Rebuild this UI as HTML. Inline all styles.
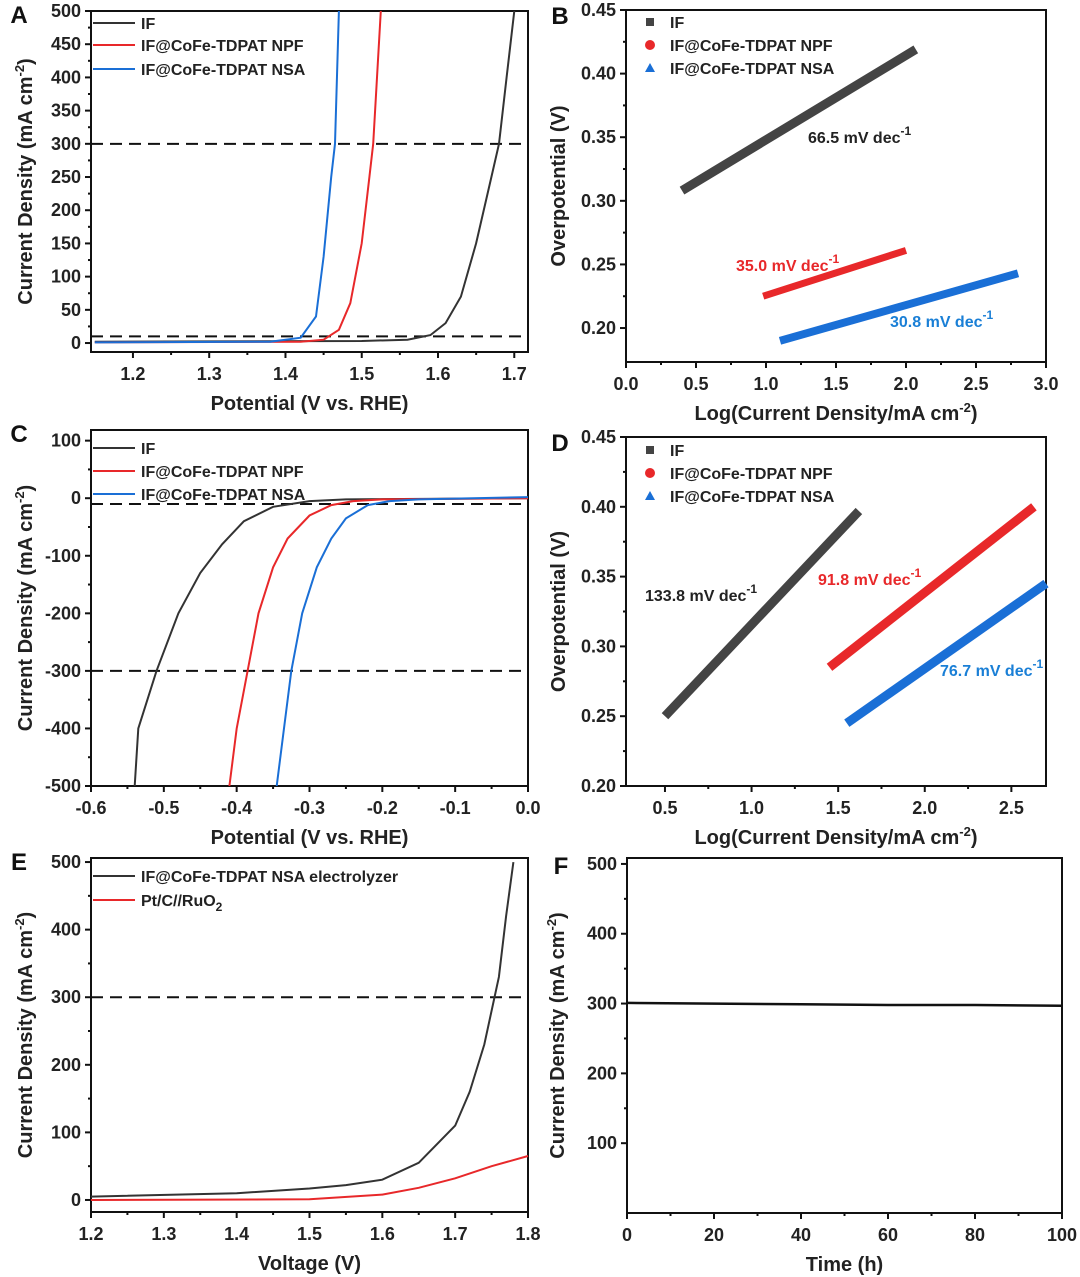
<!DOCTYPE html>
<html><head><meta charset="utf-8"><style>
body{margin:0;background:#fff}
svg{display:block;font-family:"Liberation Sans",Arial,sans-serif;font-weight:bold}
</style></head><body>
<svg id="s" width="1080" height="1277" viewBox="0 0 1080 1277" xmlns="http://www.w3.org/2000/svg"></svg>
<script>
// ---- data ----
const aIF_x=[1.15,1.50,1.56,1.59,1.61,1.63,1.65,1.67,1.68,1.69,1.70];
const aIF_y=[2,3,5,12,30,70,150,250,300,400,500];
const aNPF_x=[1.15,1.42,1.45,1.47,1.485,1.50,1.51,1.515,1.52,1.525];
const aNPF_y=[1,2,5,20,60,150,250,300,400,500];
const aNSA_x=[1.15,1.38,1.42,1.44,1.45,1.46,1.465,1.47];
const aNSA_y=[1,2,8,40,130,250,300,500];
const bIF_x=[0.4,2.07], bIF_y=[0.308,0.419];
const bNPF_x=[0.98,2.0], bNPF_y=[0.225,0.261];
const bNSA_x=[1.1,2.8], bNSA_y=[0.19,0.243];
const cIF_x=[-0.54,-0.535,-0.51,-0.48,-0.45,-0.42,-0.39,-0.35,-0.30,-0.25,0];
const cIF_y=[-500,-400,-300,-200,-130,-80,-40,-15,-5,-2,0];
const cNPF_x=[-0.41,-0.40,-0.385,-0.37,-0.35,-0.33,-0.30,-0.27,-0.24,-0.2,0];
const cNPF_y=[-500,-400,-300,-200,-120,-70,-30,-12,-5,-2,0];
const cNSA_x=[-0.345,-0.335,-0.325,-0.31,-0.29,-0.27,-0.25,-0.22,-0.19,-0.15,0];
const cNSA_y=[-500,-400,-300,-200,-120,-70,-35,-12,-5,-2,2];
const dIF_x=[0.5,1.62], dIF_y=[0.25,0.397];
const dNPF_x=[1.45,2.63], dNPF_y=[0.285,0.40];
const dNSA_x=[1.55,2.7], dNSA_y=[0.245,0.345];
const eEL_x=[1.2,1.4,1.5,1.55,1.6,1.65,1.7,1.72,1.74,1.76,1.77,1.78];
const eEL_y=[5,10,17,22,30,55,110,160,230,330,420,500];
const ePt_x=[1.2,1.5,1.6,1.65,1.7,1.75,1.8];
const ePt_y=[0,1,8,18,32,50,65];
const fT_x=[0,20,40,60,80,100], fT_y=[301,300,299,298,298,297];
const BL='#333',RD='#e8282a',BU='#1a6fd6';
const NS='http://www.w3.org/2000/svg',S=document.getElementById('s');
function el(t,a,p){const e=document.createElementNS(NS,t);for(const k in a)e.setAttribute(k,a[k]);(p||S).appendChild(e);return e;}
function txt(x,y,s,sz,anchor,fill,rot){const e=el('text',{x:x,y:y,'font-size':sz,'text-anchor':anchor||'middle',fill:fill||'#222'});if(rot)e.setAttribute('transform','rotate(-90 '+x+' '+y+')');e.innerHTML=s;return e;}
function panel(c){
 const g=el('g',{});
 
 
 const sx=v=>c.L+(v-c.x0)/(c.x1-c.x0)*(c.R-c.L);
 const sy=v=>c.B-(v-c.y0)/(c.y1-c.y0)*(c.B-c.T);
 c.sx=sx;c.sy=sy;c.g=g;
 el('rect',{x:c.L,y:c.T,width:c.R-c.L,height:c.B-c.T,fill:'none',stroke:'#111','stroke-width':2},g);
 c.xt.forEach(v=>{const x=sx(v);el('line',{x1:x,x2:x,y1:c.B,y2:c.B+6,stroke:'#111','stroke-width':2},g);
  const t=txt(x,c.B+28,v.toFixed(c.xd),18,'middle','#222');g.appendChild(t);});
 c.yt.forEach(v=>{const y=sy(v);el('line',{x1:c.L-6,x2:c.L,y1:y,y2:y,stroke:'#111','stroke-width':2},g);
  const t=txt(c.L-10,y+6,v.toFixed(c.yd),18,'end','#222');g.appendChild(t);});
 for(let i=0;i<c.xt.length-1;i++){const x=sx((c.xt[i]+c.xt[i+1])/2);el('line',{x1:x,x2:x,y1:c.B,y2:c.B+3,stroke:'#111','stroke-width':2},g);}
 for(let i=0;i<c.yt.length-1;i++){const y=sy((c.yt[i]+c.yt[i+1])/2);el('line',{x1:c.L-3,x2:c.L,y1:y,y2:y,stroke:'#111','stroke-width':2},g);}
 const xt=txt((c.L+c.R)/2,c.B+58,c.xl,20,'middle','#222');g.appendChild(xt);
 
 const yt=txt(c.ylx,(c.T+c.B)/2,c.yl,20,'middle','#222',true);g.appendChild(yt);
 
 const lt=txt(c.lx,c.ly||c.T+12,c.id,24,'middle','#111');g.appendChild(lt);
 
 return c;
}
function curve(c,xs,ys,col,w,name){const d=xs.map((v,i)=>(i?'L':'M')+c.sx(v).toFixed(1)+','+c.sy(ys[i]).toFixed(1)).join('');
 const p=el('path',{d:d,fill:'none',stroke:col,'stroke-width':w,'stroke-linecap':'butt'},c.g);
 
 }
function dash(c,v,name){const l=el('line',{x1:c.L,x2:c.R,y1:c.sy(v),y2:c.sy(v),stroke:'#111','stroke-width':2,'stroke-dasharray':'12,7'},c.g);
 
 }
function legLine(c,x,y,col,label){el('line',{x1:x,x2:x+42,y1:y,y2:y,stroke:col,'stroke-width':2},c.g);
 const t=txt(x+48,y+6,label,16,'start','#222');c.g.appendChild(t);
 }
function legMark(c,x,y,col,shape,label){
 if(shape==='s')el('rect',{x:x-4,y:y-4,width:8,height:8,fill:col},c.g);
 else if(shape==='c')el('circle',{cx:x,cy:y,r:5,fill:col},c.g);
 else el('polygon',{points:(x-5)+','+(y+4)+' '+(x+5)+','+(y+4)+' '+x+','+(y-5),fill:col},c.g);
 const t=txt(x+20,y+6,label,16,'start','#222');c.g.appendChild(t);
 }
const YL='Current Density (mA cm<tspan dy="-8" font-size="13">-2</tspan><tspan dy="8">)</tspan>';
const XL='Log(Current Density/mA cm<tspan dy="-8" font-size="13">-2</tspan><tspan dy="8">)</tspan>';
// A
const A=panel({id:'A',L:91,R:528,T:11,B:352,x0:1.145,x1:1.718,y0:-13.5,y1:500,xt:[1.2,1.3,1.4,1.5,1.6,1.7],xd:1,yt:[0,50,100,150,200,250,300,350,400,450,500],yd:0,xl:'Potential (V vs. RHE)',yl:YL,ylx:32,lx:19});
dash(A,300,'ref-300');dash(A,10,'ref-10');
curve(A,aIF_x,aIF_y,BL,2,'curve-if');curve(A,aNPF_x,aNPF_y,RD,2,'curve-npf');curve(A,aNSA_x,aNSA_y,BU,2,'curve-nsa');
legLine(A,93,23,BL,'IF');legLine(A,93,45,RD,'IF@CoFe-TDPAT NPF');legLine(A,93,69,BU,'IF@CoFe-TDPAT NSA');
// B
const B=panel({id:'B',L:626,R:1046,T:10,B:362,x0:0,x1:3,y0:0.1733,y1:0.45,xt:[0,0.5,1,1.5,2,2.5,3],xd:1,yt:[0.2,0.25,0.3,0.35,0.4,0.45],yd:2,xl:XL,yl:'Overpotential (V)',ylx:565,lx:560,ly:24});
curve(B,bIF_x,bIF_y,'#444',9,'tafel-if');curve(B,bNPF_x,bNPF_y,RD,7,'tafel-npf');curve(B,bNSA_x,bNSA_y,BU,8,'tafel-nsa');
legMark(B,650,22,'#444','s','IF');legMark(B,650,45,RD,'c','IF@CoFe-TDPAT NPF');legMark(B,650,68,BU,'t','IF@CoFe-TDPAT NSA');
txt(808,143,'66.5 mV dec<tspan dy="-8" font-size="12">-1</tspan>',16,'start','#222');
txt(736,271,'35.0 mV dec<tspan dy="-8" font-size="12">-1</tspan>',16,'start',RD);
txt(890,327,'30.8 mV dec<tspan dy="-8" font-size="12">-1</tspan>',16,'start','#1a7fd6');
// C
const C=panel({id:'C',L:91,R:528,T:430,B:786,x0:-0.6,x1:0,y0:-500,y1:118.5,xt:[-0.6,-0.5,-0.4,-0.3,-0.2,-0.1,0],xd:1,yt:[-500,-400,-300,-200,-100,0,100],yd:0,xl:'Potential (V vs. RHE)',yl:YL,ylx:32,lx:19});
dash(C,-300,'ref-300');dash(C,-10,'ref-10');
curve(C,cIF_x,cIF_y,BL,2,'curve-if');curve(C,cNPF_x,cNPF_y,RD,2,'curve-npf');curve(C,cNSA_x,cNSA_y,BU,2,'curve-nsa');
legLine(C,93,448,BL,'IF');legLine(C,93,471,RD,'IF@CoFe-TDPAT NPF');legLine(C,93,494,BU,'IF@CoFe-TDPAT NSA');
// D
const D=panel({id:'D',L:626,R:1046,T:437,B:786,x0:0.275,x1:2.70,y0:0.2,y1:0.45,xt:[0.5,1,1.5,2,2.5],xd:1,yt:[0.2,0.25,0.3,0.35,0.4,0.45],yd:2,xl:XL,yl:'Overpotential (V)',ylx:565,lx:560,ly:451});
curve(D,dIF_x,dIF_y,'#444',9,'tafel-if');curve(D,dNPF_x,dNPF_y,RD,9,'tafel-npf');curve(D,dNSA_x,dNSA_y,BU,9,'tafel-nsa');
legMark(D,650,450,'#444','s','IF');legMark(D,650,473,RD,'c','IF@CoFe-TDPAT NPF');legMark(D,650,496,BU,'t','IF@CoFe-TDPAT NSA');
txt(645,601,'133.8 mV dec<tspan dy="-8" font-size="12">-1</tspan>',16,'start','#222');
txt(818,585,'91.8 mV dec<tspan dy="-8" font-size="12">-1</tspan>',16,'start',RD);
txt(940,676,'76.7 mV dec<tspan dy="-8" font-size="12">-1</tspan>',16,'start','#1a7fd6');
// E
const E=panel({id:'E',L:91,R:528,T:858,B:1212,x0:1.2,x1:1.8,y0:-17.8,y1:506,xt:[1.2,1.3,1.4,1.5,1.6,1.7,1.8],xd:1,yt:[0,100,200,300,400,500],yd:0,xl:'Voltage (V)',yl:YL,ylx:32,lx:19});
dash(E,300,'ref-300');
curve(E,eEL_x,eEL_y,BL,2,'curve-electrolyzer');curve(E,ePt_x,ePt_y,RD,2,'curve-ptc-ruo2');
legLine(E,93,876,BL,'IF@CoFe-TDPAT NSA electrolyzer');legLine(E,93,900,RD,'Pt/C//RuO<tspan dy="5" font-size="12">2</tspan>');
// F
const F=panel({id:'F',L:627,R:1062,T:858,B:1213,x0:0,x1:100,y0:0,y1:508.5,xt:[0,20,40,60,80,100],xd:0,yt:[100,200,300,400,500],yd:0,xl:'Time (h)',yl:YL,ylx:564,lx:561,ly:874});
curve(F,fT_x,fT_y,'#111',2.5,'stability-curve');
</script>
</body></html>
